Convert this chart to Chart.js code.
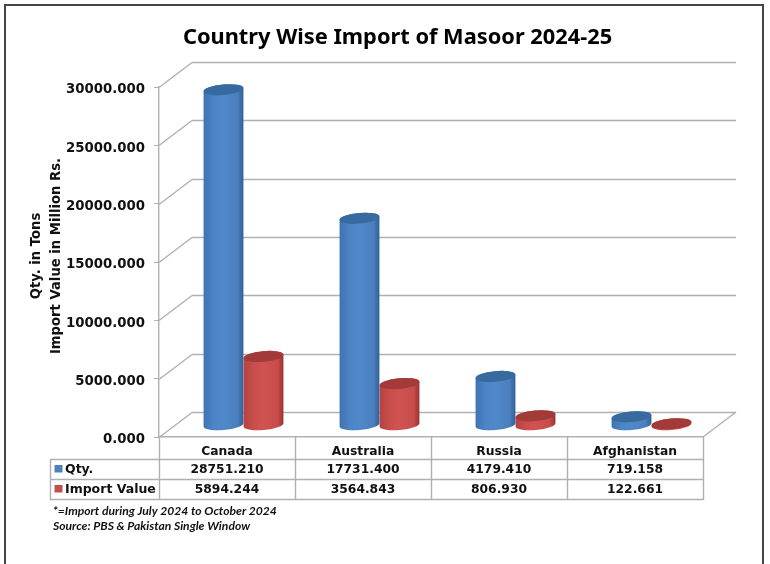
<!DOCTYPE html>
<html lang="en">
<head>
<meta charset="UTF-8">
<title>Country Wise Import of Masoor 2024-25</title>
<script src="https://cdnjs.cloudflare.com/ajax/libs/Chart.js/4.4.1/chart.umd.min.js"></script>
<style>
    html, body { margin: 0; padding: 0; background: #fff; overflow: hidden; }
    canvas { display: block; }
</style>
</head>
<body>
<canvas id="chart" width="770" height="564"></canvas>
<script>
const chartTitle = 'Country Wise Import of Masoor 2024-25';
const categories = ['Canada', 'Australia', 'Russia', 'Afghanistan'];
const seriesNames = ['Qty.', 'Import Value'];
const qtyValues = [28751.210, 17731.400, 4179.410, 719.158];
const importValues = [5894.244, 3564.843, 806.930, 122.661];
const axisTitleLines = ['Qty. in Tons', 'Import Value in Million Rs.'];
const noteLines = ['*=Import during July 2024 to October 2024', 'Source: PBS & Pakistan Single Window'];

const DEPTH_X = 33, DEPTH_Y = 25;   // how far the back wall sits from the front plane
const GRID = '#b0b0b0';
const FONT = '"DejaVu Sans"';

const look = [
    { key: '#4f81bd', top: '#376a9f', stops: ['#3f72b0', '#4c84c6', '#5088c9', '#4a80c0', '#2f5f96'] },
    { key: '#c0504d', top: '#a13a38', stops: ['#b24240', '#c94e4b', '#cf5350', '#c84c4a', '#973230'] }
];

function line(ctx, x1, y1, x2, y2) {
    ctx.beginPath();
    ctx.moveTo(x1, y1);
    ctx.lineTo(x2, y2);
    ctx.stroke();
}

function cylinder(ctx, bar, c) {
    const cx = bar.x + DEPTH_X / 2, rx = bar.width / 2, ry = 5.3, tilt = -0.09;
    const yBase = bar.base - DEPTH_Y / 2 + 0.7, yTop = bar.y - DEPTH_Y / 2 + 0.7;
    const g = ctx.createLinearGradient(cx - rx, 0, cx + rx, 0);
    [0, 0.25, 0.5, 0.85, 1].forEach((p, i) => g.addColorStop(p, c.stops[i]));
    ctx.fillStyle = g;
    ctx.beginPath();
    ctx.ellipse(cx, yBase, rx, ry, tilt, 0, Math.PI);
    ctx.ellipse(cx, yTop, rx, ry, tilt, Math.PI, 0);
    ctx.closePath();
    ctx.fill();
    ctx.fillStyle = c.top;
    ctx.beginPath();
    ctx.ellipse(cx, yTop, rx, ry, tilt, 0, Math.PI * 2);
    ctx.fill();
}

const scene = {
    id: 'scene',
    beforeDatasetsDraw(chart) {
        const { ctx, chartArea: a, scales: { y } } = chart;
        ctx.save();
        // outer frame, runs off the bottom of the picture
        ctx.strokeStyle = '#444';
        ctx.lineWidth = 2;
        ctx.beginPath();
        ctx.moveTo(5, 564);
        ctx.lineTo(5, 5);
        ctx.lineTo(763, 5);
        ctx.lineTo(763, 564);
        ctx.stroke();
        // title sits over the whole frame, not over the plot
        ctx.fillStyle = '#000';
        ctx.font = 'bold 21.8px "Noto Sans"';
        ctx.textAlign = 'center';
        ctx.textBaseline = 'middle';
        ctx.fillText(chartTitle, 397.5, 38);
        // walls and floor
        ctx.strokeStyle = GRID;
        ctx.lineWidth = 1.4;
        y.ticks.forEach(t => {
            const py = Math.round(y.getPixelForValue(t.value)) + 0.5;
            line(ctx, a.left, py, a.left + DEPTH_X, py - DEPTH_Y);
            line(ctx, a.left + DEPTH_X, py - DEPTH_Y, a.right + DEPTH_X, py - DEPTH_Y);
        });
        line(ctx, a.right, a.bottom, a.right + DEPTH_X, a.bottom - DEPTH_Y);
        ctx.restore();
    },
    afterDatasetsDraw(chart) {
        const { ctx } = chart;
        ctx.save();
        categories.forEach((_, i) => {
            look.forEach((c, d) => cylinder(ctx, chart.getDatasetMeta(d).data[i], c));
        });
        ctx.restore();
    },
    afterDraw(chart) {
        const { ctx, chartArea: a, scales: { x } } = chart;
        const half = (x.getPixelForValue(1) - x.getPixelForValue(0)) / 2;
        ctx.save();
        // data table under the plot
        ctx.strokeStyle = GRID;
        ctx.lineWidth = 1.4;
        [459.5, 479.5, 499.5].forEach(py => line(ctx, 50, py, a.right, py));
        line(ctx, 50.5, 459, 50.5, 500);
        categories.forEach((_, i) => {
            const px = Math.round(x.getPixelForValue(i) - half) + 0.5;
            line(ctx, px, a.bottom, px, 500);
        });
        line(ctx, a.right + 0.5, a.bottom, a.right + 0.5, 500);

        ctx.textBaseline = 'middle';
        ctx.fillStyle = '#111';
        ctx.font = 'bold 12.3px ' + FONT;
        ctx.textAlign = 'center';
        [qtyValues, importValues].forEach((vals, r) => {
            vals.forEach((v, i) => ctx.fillText(v.toFixed(3), x.getPixelForValue(i), 469.5 + r * 20));
        });
        ctx.font = 'bold 12.5px ' + FONT;
        ctx.textAlign = 'left';
        seriesNames.forEach((name, r) => {
            ctx.fillStyle = look[r].key;
            ctx.fillRect(54.5, 465 + r * 20, 8, 7.5);
            ctx.fillStyle = '#111';
            ctx.fillText(name, 65, 469.5 + r * 20);
        });

        // two line axis title
        ctx.font = 'bold 13.2px ' + FONT;
        ctx.textAlign = 'center';
        axisTitleLines.forEach((t, i) => {
            ctx.save();
            ctx.translate(37 + i * 20, 256);
            ctx.rotate(-Math.PI / 2);
            ctx.fillText(t, 0, 0);
            ctx.restore();
        });

        // notes
        ctx.font = 'italic bold 12.1px Lato';
        ctx.textAlign = 'left';
        noteLines.forEach((t, i) => ctx.fillText(t, 53, 511 + i * 15));
        ctx.restore();
    }
};

new Chart(document.getElementById('chart'), {
    type: 'bar',
    data: {
        labels: categories,
        datasets: [
            { label: seriesNames[0], data: qtyValues, backgroundColor: 'transparent' },
            { label: seriesNames[1], data: importValues, backgroundColor: 'transparent' }
        ]
    },
    plugins: [scene],
    options: {
        responsive: false,
        animation: false,
        categoryPercentage: 80 / 136,
        barPercentage: 1,
        layout: { padding: { top: 87, right: 67 } },
        plugins: {
            legend: { display: false },
            tooltip: { enabled: false }
        },
        scales: {
            x: {
                afterFit(s) { s.height = 127; },
                grid: { drawOnChartArea: false, drawTicks: false },
                border: { color: GRID, width: 1.4 },
                ticks: {
                    color: '#111',
                    padding: 7,
                    autoSkip: false,
                    maxRotation: 0,
                    font: { family: FONT, size: 12.3, weight: 'bold' }
                }
            },
            y: {
                min: 0,
                max: 30000,
                afterFit(s) { s.width = 159; },
                grid: { drawOnChartArea: false, color: GRID, tickLength: 5 },
                border: { color: GRID, width: 1.4 },
                ticks: {
                    stepSize: 5000,
                    color: '#111',
                    padding: 9,
                    labelOffset: 3,
                    font: { family: FONT, size: 13.3, weight: 'bold' },
                    callback: v => v.toFixed(3)
                }
            }
        }
    }
});
</script>
</body>
</html>
